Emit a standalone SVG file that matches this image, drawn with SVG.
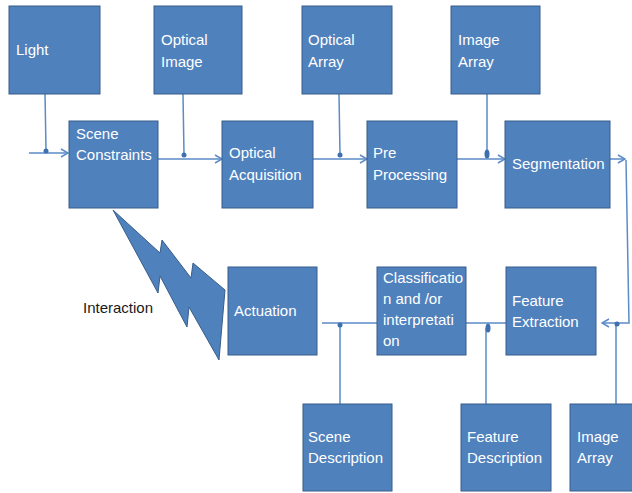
<svg xmlns="http://www.w3.org/2000/svg" width="632" height="493" viewBox="0 0 632 493">
  <defs>
    <style>
      .box { fill: #4F81BD; stroke: #385D8A; stroke-width: 1; }
      .lbl { fill: #FFFFFF; font-family: "Liberation Sans", Arial, sans-serif; font-size: 15px; }
      .note { fill: #1A1A1A; font-family: "Liberation Sans", Arial, sans-serif; font-size: 15px; }
      .wire { fill: none; stroke: #5B8BC9; stroke-width: 1.5; }
      .dot { fill: #3F6FAE; }
    </style>
    <marker id="arrow" viewBox="0 0 10 10" refX="9" refY="5" markerWidth="10" markerHeight="10" markerUnits="userSpaceOnUse" orient="auto">
      <polyline points="2,1 9,5 2,9" fill="none" stroke="#5B8BC9" stroke-width="1.5"/>
    </marker>
  </defs>
  <rect width="632" height="493" fill="#FFFFFF"/>

  <!-- connectors -->
  <g id="connectors">
    <!-- top row -->
    <line class="wire" x1="45" y1="94" x2="46" y2="150"/>
    <line class="wire" x1="29" y1="153" x2="68" y2="153" marker-end="url(#arrow)"/>
    <circle class="dot" cx="46" cy="151" r="2.5"/>

    <line class="wire" x1="183" y1="94" x2="184" y2="155"/>
    <line class="wire" x1="158" y1="159" x2="222" y2="159" marker-end="url(#arrow)"/>
    <circle class="dot" cx="184" cy="155" r="2.5"/>

    <line class="wire" x1="339" y1="94" x2="340" y2="155"/>
    <line class="wire" x1="313" y1="159" x2="367" y2="159" marker-end="url(#arrow)"/>
    <circle class="dot" cx="340" cy="155" r="2.5"/>

    <line class="wire" x1="487" y1="94" x2="487" y2="152"/>
    <line class="wire" x1="457" y1="159" x2="505" y2="159" marker-end="url(#arrow)"/>
    <ellipse class="dot" cx="487" cy="154" rx="2.5" ry="4.5"/>

    <line class="wire" x1="610" y1="159" x2="625" y2="159" marker-end="url(#arrow)"/>
    <polyline class="wire" points="626,160 629,323 602,323" marker-end="url(#arrow)"/>

    <!-- bottom row -->
    <line class="wire" x1="322" y1="323" x2="377" y2="323"/>
    <line class="wire" x1="340" y1="325" x2="340" y2="404"/>
    <circle class="dot" cx="340" cy="325" r="2.5"/>

    <line class="wire" x1="466" y1="323" x2="506" y2="323"/>
    <line class="wire" x1="486" y1="328" x2="486" y2="404"/>
    <ellipse class="dot" cx="488" cy="328" rx="2.5" ry="4.5"/>

    <line class="wire" x1="616" y1="325" x2="616" y2="404"/>
    <circle class="dot" cx="617" cy="324" r="2.5"/>
  </g>

  <!-- interaction bolt -->
  <g id="interaction">
    <polygon class="box" points="113,210 160,253 162,240 191,278 193,263 225,290 219,360 189,307 187,327 160,276 158,293"/>
    <text class="note" x="83" y="313">Interaction</text>
  </g>

  <!-- nodes, top row -->
  <g id="light">
    <rect class="box" x="9" y="6" width="91" height="88"/>
    <text class="lbl" x="16" y="55">Light</text>
  </g>
  <g id="optical-image">
    <rect class="box" x="154" y="6" width="88" height="88"/>
    <text class="lbl" x="161" y="45">Optical</text>
    <text class="lbl" x="161" y="67">Image</text>
  </g>
  <g id="optical-array">
    <rect class="box" x="302" y="6" width="90" height="88"/>
    <text class="lbl" x="308" y="45">Optical</text>
    <text class="lbl" x="308" y="67">Array</text>
  </g>
  <g id="image-array-top">
    <rect class="box" x="451" y="6" width="89" height="88"/>
    <text class="lbl" x="458" y="45">Image</text>
    <text class="lbl" x="458" y="67">Array</text>
  </g>

  <!-- nodes, processing row -->
  <g id="scene-constraints">
    <rect class="box" x="69" y="121" width="89" height="87"/>
    <text class="lbl" x="76" y="139">Scene</text>
    <text class="lbl" x="76" y="160">Constraints</text>
  </g>
  <g id="optical-acquisition">
    <rect class="box" x="222" y="121" width="91" height="87"/>
    <text class="lbl" x="229" y="158">Optical</text>
    <text class="lbl" x="229" y="180">Acquisition</text>
  </g>
  <g id="pre-processing">
    <rect class="box" x="367" y="121" width="90" height="87"/>
    <text class="lbl" x="373" y="158">Pre</text>
    <text class="lbl" x="373" y="180">Processing</text>
  </g>
  <g id="segmentation">
    <rect class="box" x="505" y="121" width="105" height="87"/>
    <text class="lbl" x="512" y="169">Segmentation</text>
  </g>

  <!-- nodes, interpretation row -->
  <g id="actuation">
    <rect class="box" x="228" y="267" width="89" height="88"/>
    <text class="lbl" x="234" y="316">Actuation</text>
  </g>
  <g id="classification">
    <rect class="box" x="377" y="267" width="89" height="88"/>
    <text class="lbl" x="383" y="283">Classificatio</text>
    <text class="lbl" x="383" y="304">n and /or</text>
    <text class="lbl" x="383" y="325">interpretati</text>
    <text class="lbl" x="383" y="346">on</text>
  </g>
  <g id="feature-extraction">
    <rect class="box" x="506" y="267" width="90" height="88"/>
    <text class="lbl" x="512" y="306">Feature</text>
    <text class="lbl" x="512" y="327">Extraction</text>
  </g>

  <!-- nodes, bottom row -->
  <g id="scene-description">
    <rect class="box" x="303" y="404" width="89" height="87"/>
    <text class="lbl" x="308" y="442">Scene</text>
    <text class="lbl" x="308" y="463">Description</text>
  </g>
  <g id="feature-description">
    <rect class="box" x="461" y="404" width="90" height="87"/>
    <text class="lbl" x="467" y="442">Feature</text>
    <text class="lbl" x="467" y="463">Description</text>
  </g>
  <g id="image-array-bottom">
    <rect class="box" x="570" y="404" width="70" height="87"/>
    <text class="lbl" x="577" y="442">Image</text>
    <text class="lbl" x="577" y="463">Array</text>
  </g>
</svg>
